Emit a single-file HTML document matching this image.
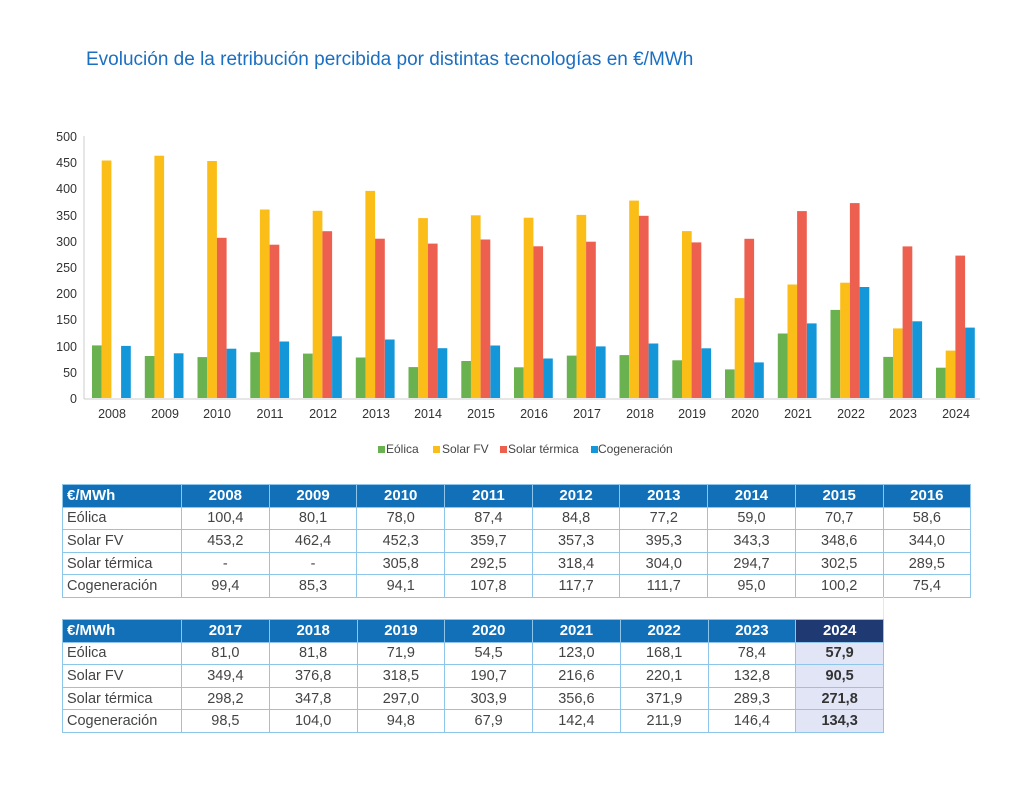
<!DOCTYPE html>
<html><head><meta charset="utf-8">
<style>
body{margin:0;background:#fff;width:1024px;height:796px;position:relative;font-family:"Liberation Sans",sans-serif;overflow:hidden}
.title{position:absolute;left:86px;top:49px;font-size:19px;color:#1b6fc2}
table{position:absolute;border-collapse:collapse;font-size:14.5px;color:#444;table-layout:fixed}
td,th{border:1px solid #8ec5ea;height:21.6px;padding:0;text-align:center}
th{background:#1170b8;color:#fff;font-weight:bold;font-size:15px}
th.f{text-align:left;padding-left:4px}
td.f{text-align:left;padding-left:4px}
th.d{background:#1f3a73}
td.h{background:#e1e5f6;font-weight:bold;color:#333}
</style></head><body>
<div class="title">Evolución de la retribución percibida por distintas tecnologías en €/MWh</div>
<svg id="c" width="1024" height="470" style="position:absolute;left:0;top:0" font-family="Liberation Sans, sans-serif">
<line x1="84" y1="136" x2="84" y2="399" stroke="#ccc"/>
<line x1="84" y1="399" x2="980" y2="399" stroke="#ccc"/>
<g font-size="12.5" fill="#333" text-anchor="end">
<text x="77" y="403">0</text><text x="77" y="377">50</text><text x="77" y="351">100</text><text x="77" y="324">150</text><text x="77" y="298">200</text><text x="77" y="272">250</text><text x="77" y="246">300</text><text x="77" y="220">350</text><text x="77" y="193">400</text><text x="77" y="167">450</text><text x="77" y="141">500</text>
</g>
<g font-size="12.5" fill="#333" text-anchor="middle">
<text x="112" y="418">2008</text><text x="165" y="418">2009</text><text x="217" y="418">2010</text><text x="270" y="418">2011</text><text x="323" y="418">2012</text><text x="376" y="418">2013</text><text x="428" y="418">2014</text><text x="481" y="418">2015</text><text x="534" y="418">2016</text><text x="587" y="418">2017</text><text x="640" y="418">2018</text><text x="692" y="418">2019</text><text x="745" y="418">2020</text><text x="798" y="418">2021</text><text x="851" y="418">2022</text><text x="903" y="418">2023</text><text x="956" y="418">2024</text>
</g>
<g font-size="12" fill="#444">
<rect x="378" y="446" width="7" height="7" fill="#6ab150"/><text x="386" y="453">Eólica</text>
<rect x="433" y="446" width="7" height="7" fill="#fbbd18"/><text x="442" y="453">Solar FV</text>
<rect x="500" y="446" width="7" height="7" fill="#ed5f4f"/><text x="508" y="453">Solar térmica</text>
<rect x="591" y="446" width="7" height="7" fill="#1497d9"/><text x="598" y="453">Cogeneración</text>
</g>
<g id="bars"></g>
</svg>
<script>
var D=[[100.4,80.1,78.0,87.4,84.8,77.2,59.0,70.7,58.6,81.0,81.8,71.9,54.5,123.0,168.1,78.4,57.9],
[453.2,462.4,452.3,359.7,357.3,395.3,343.3,348.6,344.0,349.4,376.8,318.5,190.7,216.6,220.1,132.8,90.5],
[0,0,305.8,292.5,318.4,304.0,294.7,302.5,289.5,298.2,347.8,297.0,303.9,356.6,371.9,289.3,271.8],
[99.4,85.3,94.1,107.8,117.7,111.7,95.0,100.2,75.4,98.5,104.0,94.8,67.9,142.4,211.9,146.4,134.3]];
var C=["#6ab150","#fbbd18","#ed5f4f","#1497d9"],s="";
for(var i=0;i<17;i++)for(var k=0;k<4;k++){var v=D[k][i];if(!v)continue;var x=92+52.75*i+k*9.7,h=v*0.524;
s+='<rect x="'+x.toFixed(1)+'" y="'+(398-h).toFixed(1)+'" width="9.7" height="'+h.toFixed(1)+'" fill="'+C[k]+'"/>';}
document.getElementById("bars").innerHTML=s;
</script>
<table style="left:62px;top:484px;width:908px">
<colgroup><col style="width:119px"><col span="9" style="width:87.7px"></colgroup>
<tr><th class="f">€/MWh</th><th>2008</th><th>2009</th><th>2010</th><th>2011</th><th>2012</th><th>2013</th><th>2014</th><th>2015</th><th>2016</th></tr>
<tr><td class="f">Eólica</td><td>100,4</td><td>80,1</td><td>78,0</td><td>87,4</td><td>84,8</td><td>77,2</td><td>59,0</td><td>70,7</td><td>58,6</td></tr>
<tr><td class="f">Solar FV</td><td>453,2</td><td>462,4</td><td>452,3</td><td>359,7</td><td>357,3</td><td>395,3</td><td>343,3</td><td>348,6</td><td>344,0</td></tr>
<tr><td class="f">Solar térmica</td><td>-</td><td>-</td><td>305,8</td><td>292,5</td><td>318,4</td><td>304,0</td><td>294,7</td><td>302,5</td><td>289,5</td></tr>
<tr><td class="f">Cogeneración</td><td>99,4</td><td>85,3</td><td>94,1</td><td>107,8</td><td>117,7</td><td>111,7</td><td>95,0</td><td>100,2</td><td>75,4</td></tr>
</table>
<div style="position:absolute;left:883px;top:597px;width:1px;height:22px;background:#dde9f5"></div>
<table style="left:62px;top:619px;width:821px">
<colgroup><col style="width:119px"><col span="8" style="width:87.75px"></colgroup>
<tr><th class="f">€/MWh</th><th>2017</th><th>2018</th><th>2019</th><th>2020</th><th>2021</th><th>2022</th><th>2023</th><th class="d">2024</th></tr>
<tr><td class="f">Eólica</td><td>81,0</td><td>81,8</td><td>71,9</td><td>54,5</td><td>123,0</td><td>168,1</td><td>78,4</td><td class="h">57,9</td></tr>
<tr><td class="f">Solar FV</td><td>349,4</td><td>376,8</td><td>318,5</td><td>190,7</td><td>216,6</td><td>220,1</td><td>132,8</td><td class="h">90,5</td></tr>
<tr><td class="f">Solar térmica</td><td>298,2</td><td>347,8</td><td>297,0</td><td>303,9</td><td>356,6</td><td>371,9</td><td>289,3</td><td class="h">271,8</td></tr>
<tr><td class="f">Cogeneración</td><td>98,5</td><td>104,0</td><td>94,8</td><td>67,9</td><td>142,4</td><td>211,9</td><td>146,4</td><td class="h">134,3</td></tr>
</table>
</body></html>
